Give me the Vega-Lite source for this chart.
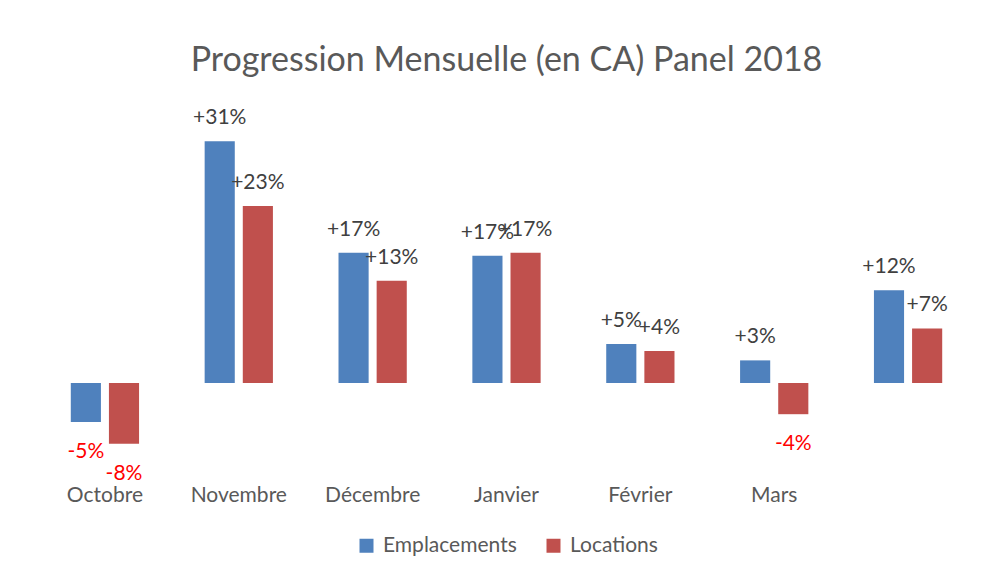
{
  "$schema": "https://vega.github.io/schema/vega-lite/v6.json",
  "width": 937,
  "height": 351,
  "autosize": {"type": "none"},
  "padding": {"left": 38, "top": 110, "right": 15, "bottom": 114},
  "background": "white",
  "config": {"view": {"stroke": null}, "font": "Lato", "legend": {"layout": {"bottom": {"anchor": "middle"}}}},
  "title": {
    "text": "Progression Mensuelle (en CA) Panel 2018",
    "fontSize": 34,
    "font": "Lato",
    "fontWeight": "normal",
    "color": "#595959",
    "anchor": "middle",
    "offset": 29
  },
  "data": {
    "values": [
      {"mois": "Octobre", "serie": "Emplacements", "valeur": -5, "label": "-5%"},
      {"mois": "Octobre", "serie": "Locations", "valeur": -7.8, "label": "-8%"},
      {"mois": "Novembre", "serie": "Emplacements", "valeur": 31, "label": "+31%"},
      {"mois": "Novembre", "serie": "Locations", "valeur": 22.7, "label": "+23%"},
      {"mois": "Décembre", "serie": "Emplacements", "valeur": 16.7, "label": "+17%"},
      {"mois": "Décembre", "serie": "Locations", "valeur": 13.1, "label": "+13%"},
      {"mois": "Janvier", "serie": "Emplacements", "valeur": 16.3, "label": "+17%"},
      {"mois": "Janvier", "serie": "Locations", "valeur": 16.7, "label": "+17%"},
      {"mois": "Février", "serie": "Emplacements", "valeur": 5.0, "label": "+5%"},
      {"mois": "Février", "serie": "Locations", "valeur": 4.1, "label": "+4%"},
      {"mois": "Mars", "serie": "Emplacements", "valeur": 2.9, "label": "+3%"},
      {"mois": "Mars", "serie": "Locations", "valeur": -4.0, "label": "-4%"},
      {"mois": " ", "serie": "Emplacements", "valeur": 11.9, "label": "+12%"},
      {"mois": " ", "serie": "Locations", "valeur": 7.0, "label": "+7%"}
    ]
  },
  "encoding": {
    "x": {
      "field": "mois",
      "type": "nominal",
      "sort": null,
      "scale": {"paddingInner": 0.49, "paddingOuter": 0.245},
      "axis": {
        "title": null,
        "domain": false,
        "ticks": false,
        "labelAngle": 0,
        "labelFont": "Lato",
        "labelFontSize": 21,
        "labelColor": "#595959",
        "labelBaseline": "alphabetic",
        "labelPadding": 40
      }
    },
    "xOffset": {"field": "serie", "type": "nominal", "sort": null, "scale": {"paddingInner": 0.21}},
    "y": {"field": "valeur", "type": "quantitative", "scale": {"domain": [-10, 35], "nice": false}, "axis": null}
  },
  "layer": [
    {
      "mark": {"type": "bar"},
      "encoding": {
        "color": {
          "field": "serie",
          "type": "nominal",
          "sort": null,
          "scale": {"domain": ["Emplacements", "Locations"], "range": ["#4F81BD", "#C0504D"]},
          "legend": {
            "title": null,
            "orient": "bottom",
            "direction": "horizontal",
            "symbolType": "square",
            "symbolSize": 196,
            "symbolStrokeWidth": 0,
            "labelFont": "Lato",
            "labelFontSize": 21,
            "labelColor": "#595959",
            "labelOffset": 6,
            "columnPadding": 26,
            "offset": 30
          }
        }
      }
    },
    {
      "data": {"values": [{}]},
      "mark": {"type": "rule", "color": "#d9d9d9", "strokeWidth": 1.5},
      "encoding": {"x": null, "xOffset": null, "y": {"datum": 0}}
    },
    {
      "transform": [{"filter": "datum.valeur >= 0"}],
      "mark": {"type": "text", "baseline": "alphabetic", "dy": -17, "fontSize": 21, "font": "Lato", "color": "#404040"},
      "encoding": {"text": {"field": "label"}}
    },
    {
      "transform": [{"filter": "datum.valeur < 0"}],
      "mark": {"type": "text", "baseline": "alphabetic", "dy": 36, "fontSize": 21, "font": "Lato", "color": "#FF0000"},
      "encoding": {"text": {"field": "label"}}
    }
  ]
}
